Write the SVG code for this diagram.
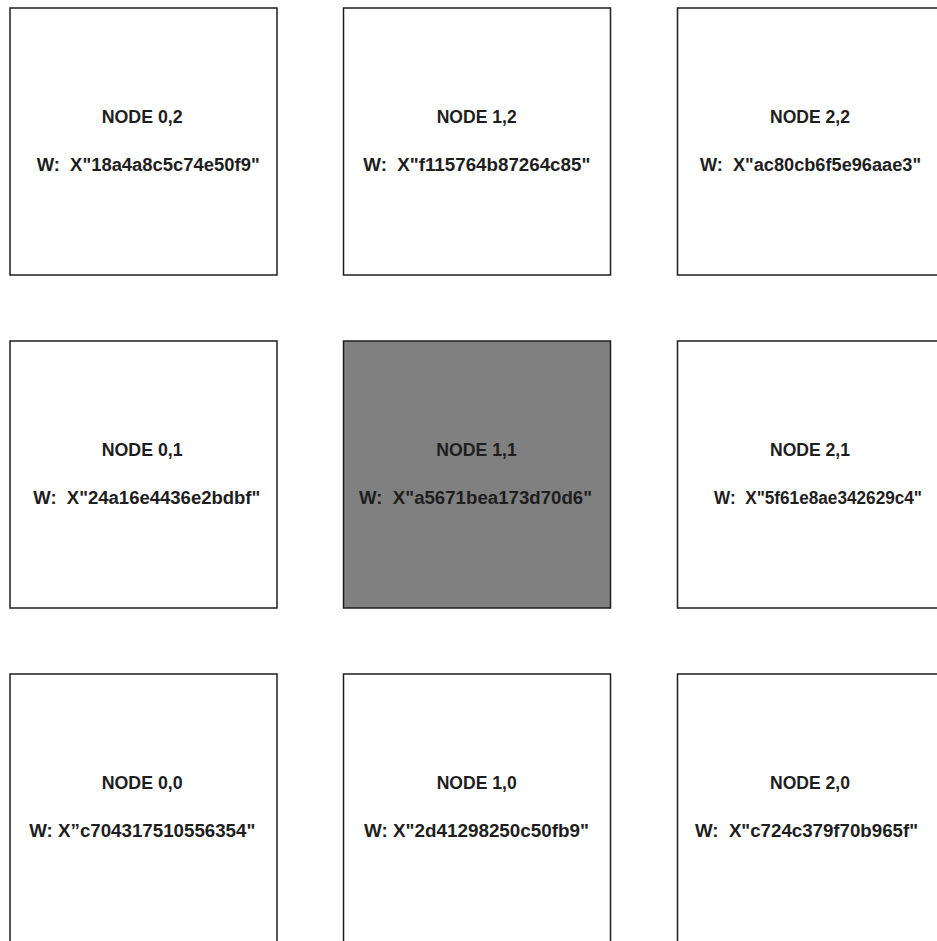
<svg xmlns="http://www.w3.org/2000/svg" width="937" height="941" viewBox="0 0 937 941">
<style>
.box{fill:#ffffff;stroke:#1e1e1e;stroke-width:1.5}
.dark{fill:#808080}
text{font-family:"Liberation Sans",Arial,sans-serif;font-weight:bold;font-size:18px;fill:#1e1e1e;white-space:pre}
</style>
<rect width="937" height="941" fill="#ffffff"/>
<g id="connectors"></g>
<g id="node-0-2">
<rect class="box" x="10" y="8" width="267" height="267"/>
<text x="101.7" y="123" textLength="81" lengthAdjust="spacingAndGlyphs">NODE 0,2</text>
<text x="36.7" y="170.5" textLength="223" lengthAdjust="spacingAndGlyphs">W:  X"18a4a8c5c74e50f9"</text>
</g>
<g id="node-1-2">
<rect class="box" x="343.5" y="8" width="267" height="267"/>
<text x="436.7" y="123" textLength="80" lengthAdjust="spacingAndGlyphs">NODE 1,2</text>
<text x="363.3" y="170.5" textLength="227" lengthAdjust="spacingAndGlyphs">W:  X"f115764b87264c85"</text>
</g>
<g id="node-2-2">
<rect class="box" x="677.5" y="8" width="267" height="267"/>
<text x="770" y="123" textLength="80" lengthAdjust="spacingAndGlyphs">NODE 2,2</text>
<text x="700" y="170.5" textLength="221" lengthAdjust="spacingAndGlyphs">W:  X"ac80cb6f5e96aae3"</text>
</g>
<g id="node-0-1">
<rect class="box" x="10" y="341" width="267" height="267"/>
<text x="101.7" y="456" textLength="81" lengthAdjust="spacingAndGlyphs">NODE 0,1</text>
<text x="33.3" y="503.5" textLength="227" lengthAdjust="spacingAndGlyphs">W:  X"24a16e4436e2bdbf"</text>
</g>
<g id="node-1-1">
<rect class="box dark" x="343.5" y="341" width="267" height="267"/>
<text x="436.3" y="456" textLength="80.4" lengthAdjust="spacingAndGlyphs">NODE 1,1</text>
<text x="359" y="503.5" textLength="233" lengthAdjust="spacingAndGlyphs">W:  X"a5671bea173d70d6"</text>
</g>
<g id="node-2-1">
<rect class="box" x="677.5" y="341" width="267" height="267"/>
<text x="770" y="456" textLength="80" lengthAdjust="spacingAndGlyphs">NODE 2,1</text>
<text x="714" y="503.5" textLength="208" lengthAdjust="spacingAndGlyphs">W:  X"5f61e8ae342629c4"</text>
</g>
<g id="node-0-0">
<rect class="box" x="10" y="674" width="267" height="280"/>
<text x="101.7" y="789" textLength="81" lengthAdjust="spacingAndGlyphs">NODE 0,0</text>
<text x="29.3" y="836.5" textLength="226" lengthAdjust="spacingAndGlyphs">W: X”c704317510556354"</text>
</g>
<g id="node-1-0">
<rect class="box" x="343.5" y="674" width="267" height="280"/>
<text x="436.7" y="789" textLength="80" lengthAdjust="spacingAndGlyphs">NODE 1,0</text>
<text x="364" y="836.5" textLength="225" lengthAdjust="spacingAndGlyphs">W: X"2d41298250c50fb9"</text>
</g>
<g id="node-2-0">
<rect class="box" x="677.5" y="674" width="267" height="280"/>
<text x="770" y="789" textLength="80" lengthAdjust="spacingAndGlyphs">NODE 2,0</text>
<text x="695" y="836.5" textLength="223" lengthAdjust="spacingAndGlyphs">W:  X"c724c379f70b965f"</text>
</g>
</svg>
